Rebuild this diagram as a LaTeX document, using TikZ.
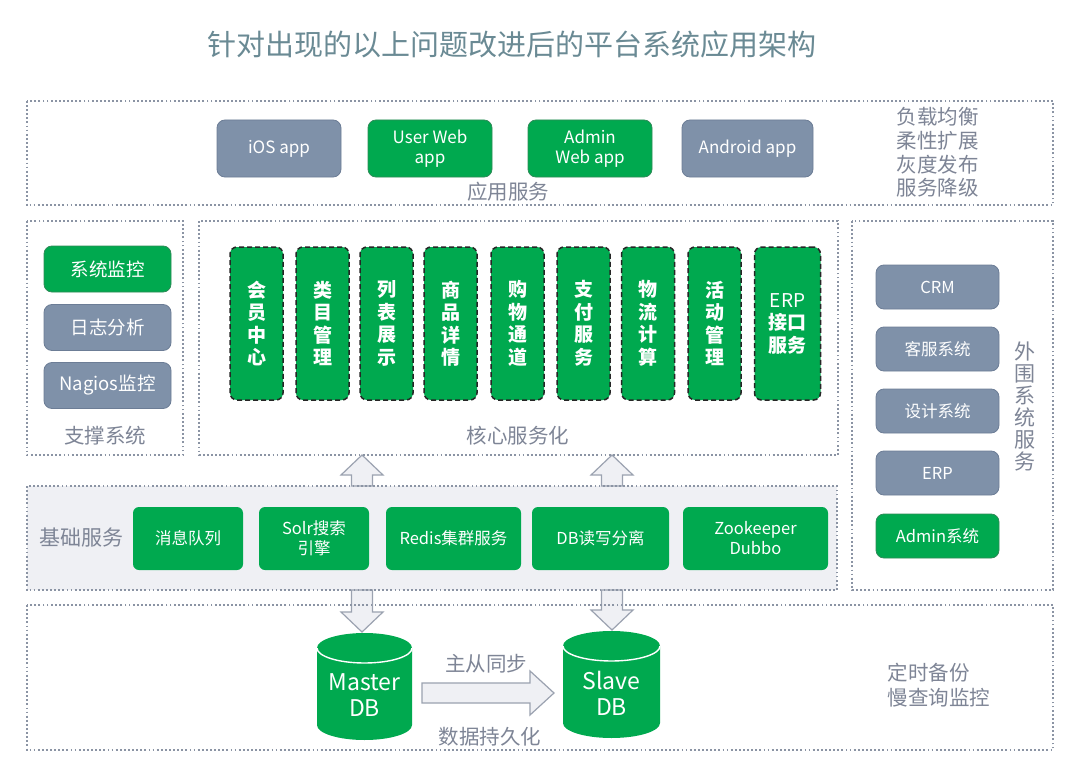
\documentclass[tikz,border=0pt]{standalone}
\usepackage{fontspec}
\setmainfont{Noto Sans CJK SC}
\usetikzlibrary{calc}
\definecolor{grn}{HTML}{00A94F}
\definecolor{grnd}{HTML}{2E8B57}
\definecolor{gbl}{HTML}{7F91A9}
\definecolor{gbld}{HTML}{6C7D96}
\definecolor{lbl}{HTML}{7E8596}
\definecolor{ttl}{HTML}{6A8A94}
\definecolor{dotc}{HTML}{8B94A4}
\definecolor{lfill}{HTML}{EFF0F4}
\definecolor{arrc}{HTML}{9BA2B0}
\newcommand\fs[2]{\fontsize{#1}{#2}\selectfont}
\newcommand\dbcyl[7]{%
  \fill[grn] (#2-#4,#3) -- ++(0,#6) arc[start angle=180,end angle=0,x radius=#4,y radius=#5] -- ++(0,-#6) arc[start angle=0,end angle=-180,x radius=#4,y radius=#5] -- cycle;
  \draw[white,line width=1.4] (#2-#4,#3) arc[start angle=180,end angle=0,x radius=#4,y radius=#5];
  \node[text=white,font=\fs{23}{26},align=center] (#1) at (#2,#3+#6/2+9) {#7};}
\newcommand\varrow[3]{%
  \draw[blkarr] ($(#1)+(-10.5,0)$) -- ($(#2)+(-10.5,#3*20)$) -- ($(#2)+(-21,#3*20)$) -- (#2) -- ($(#2)+(21,#3*20)$) -- ($(#2)+(10.5,#3*20)$) -- ($(#1)+(10.5,0)$) -- cycle;}
\begin{document}
\begin{tikzpicture}[x=1pt,y=-1pt,
  dotbox/.style={draw=dotc,line width=1.8,dash pattern=on 1.8 off 2.3},
  gbox/.style={rectangle,rounded corners=8,fill=grn,draw=grnd,line width=0.8,text=white,align=center,inner sep=0},
  bbox/.style={rectangle,rounded corners=8,fill=gbl,draw=gbld,line width=0.8,text=white,align=center,inner sep=0},
  appbox/.style={minimum width=124,minimum height=57,font=\fs{17}{20}},
  supbox/.style={minimum width=127,minimum height=46,font=\fs{18.5}{22}},
  extbox/.style={minimum width=123,minimum height=44,font=\fs{16.5}{20}},
  basebox/.style={rectangle,rounded corners=6,fill=grn,text=white,align=center,inner sep=0,minimum height=63,font=\fs{16.5}{20}},
  corebox/.style={rectangle,rounded corners=7,fill=grn,draw=black!85,line width=1.5,dash pattern=on 5 off 3,text=white,align=center,inner sep=0,minimum width=53,minimum height=153,font=\bfseries\fs{19}{22.5}},
  lab/.style={text=lbl,font=\fs{20.5}{24},align=center},
  blkarr/.style={fill=lfill,draw=arrc,line width=1.2,line join=miter}]
\useasboundingbox (0,0) rectangle (1080,776);
\fill[white] (0,0) rectangle (1080,776);

% title
\node[text=ttl,font=\fs{29}{33}] (title) at (512,44) {针对出现的以上问题改进后的平台系统应用架构};

% base layer fill
\fill[lfill] (27,486) rectangle (837,590);

% arrows core <-> base and base -> DB
\coordinate (ua1) at (362,486); \coordinate (ut1) at (362,455);
\coordinate (ua2) at (612,486); \coordinate (ut2) at (612,455);
\coordinate (da1) at (362,590); \coordinate (dt1) at (362,632);
\coordinate (da2) at (612,590); \coordinate (dt2) at (612,630);
\varrow{ua1}{ut1}{1}
\varrow{ua2}{ut2}{1}
\varrow{da1}{dt1}{-1}
\varrow{da2}{dt2}{-1}

% dotted frames
\draw[dotbox] (27,101) rectangle (1053,205);
\draw[dotbox] (27,221) rectangle (183,455);
\draw[dotbox] (199,221) rectangle (838,455);
\draw[dotbox] (852,221) rectangle (1053,590);
\draw[dotbox] (27,486) rectangle (837,590);
\draw[dotbox] (27,605) rectangle (1053,750);

% application layer
\node[bbox,appbox] (ios) at (279,148.5) {iOS app};
\node[gbox,appbox] (userweb) at (430,148.5) {User Web\\app};
\node[gbox,appbox] (adminweb) at (590,148.5) {Admin\\Web app};
\node[bbox,appbox,minimum width=131] (android) at (747.5,148.5) {Android app};
\node[lab] (applab) at (508,192) {应用服务};
\node[lab,align=left,anchor=west,font=\fs{20.5}{23.7}] (apptxt) at (893,152.5) {负载均衡\\柔性扩展\\灰度发布\\服务降级};

% support systems
\node[gbox,supbox] (mon) at (107.5,269) {系统监控};
\node[bbox,supbox] (log) at (107.5,327.5) {日志分析};
\node[bbox,supbox] (nag) at (107.5,385.5) {Nagios监控};
\node[lab] (suplab) at (105,436) {支撑系统};

% core services
\node[corebox] (c1) at (256.5,323.5) {会\\员\\中\\心};
\node[corebox] (c2) at (322.5,323.5) {类\\目\\管\\理};
\node[corebox] (c3) at (386.5,323.5) {列\\表\\展\\示};
\node[corebox] (c4) at (450.5,323.5) {商\\品\\详\\情};
\node[corebox] (c5) at (517.5,323.5) {购\\物\\通\\道};
\node[corebox] (c6) at (583.5,323.5) {支\\付\\服\\务};
\node[corebox] (c7) at (648,323.5) {物\\流\\计\\算};
\node[corebox] (c8) at (714.5,323.5) {活\\动\\管\\理};
\node[corebox,minimum width=66] (c9) at (787.5,323.5) {{\mdseries ERP}\\接口\\服务};
\node[lab] (corelab) at (518,436) {核心服务化};

% external systems
\node[bbox,extbox] (crm) at (937.5,287) {CRM};
\node[bbox,extbox] (kf) at (937.5,349) {客服系统};
\node[bbox,extbox] (sj) at (937.5,411) {设计系统};
\node[bbox,extbox] (erp) at (937.5,473) {ERP};
\node[gbox,extbox] (adm) at (937.5,536) {Admin系统};
\node[lab,font=\fs{21}{22}] (extlab) at (1025,406) {外\\围\\系\\统\\服\\务};

% base services
\node[lab,font=\fs{21}{24}] (baselab) at (81,538) {基础服务};
\node[basebox,minimum width=110] (mq) at (188,538.5) {消息队列};
\node[basebox,minimum width=110] (solr) at (314,538.5) {Solr搜索\\引擎};
\node[basebox,minimum width=135] (redis) at (453.5,538.5) {Redis集群服务};
\node[basebox,minimum width=137] (dbrw) at (600.5,538.5) {DB读写分离};
\node[basebox,minimum width=145] (zk) at (755.5,538.5) {Zookeeper\\Dubbo};

% persistence
\dbcyl{master}{364.5}{648}{47.5}{15}{77}{Master\\DB}
\dbcyl{slave}{611.5}{646}{48.5}{15}{77}{Slave\\DB}
\coordinate (st) at (422,693);
\coordinate (sp) at (554,693);
\draw[blkarr] ($(st)+(0,-10)$) -- ($(sp)+(-24,-10)$) -- ($(sp)+(-24,-22)$) -- (sp) -- ($(sp)+(-24,22)$) -- ($(sp)+(-24,10)$) -- ($(st)+(0,10)$) -- cycle;
\node[lab] (synclab) at (486,664) {主从同步};
\node[lab] (perlab) at (490,737) {数据持久化};
\node[lab,align=left,anchor=west,font=\fs{20.5}{25}] (dbtxt) at (884,685) {定时备份\\慢查询监控};
\end{tikzpicture}
\end{document}
